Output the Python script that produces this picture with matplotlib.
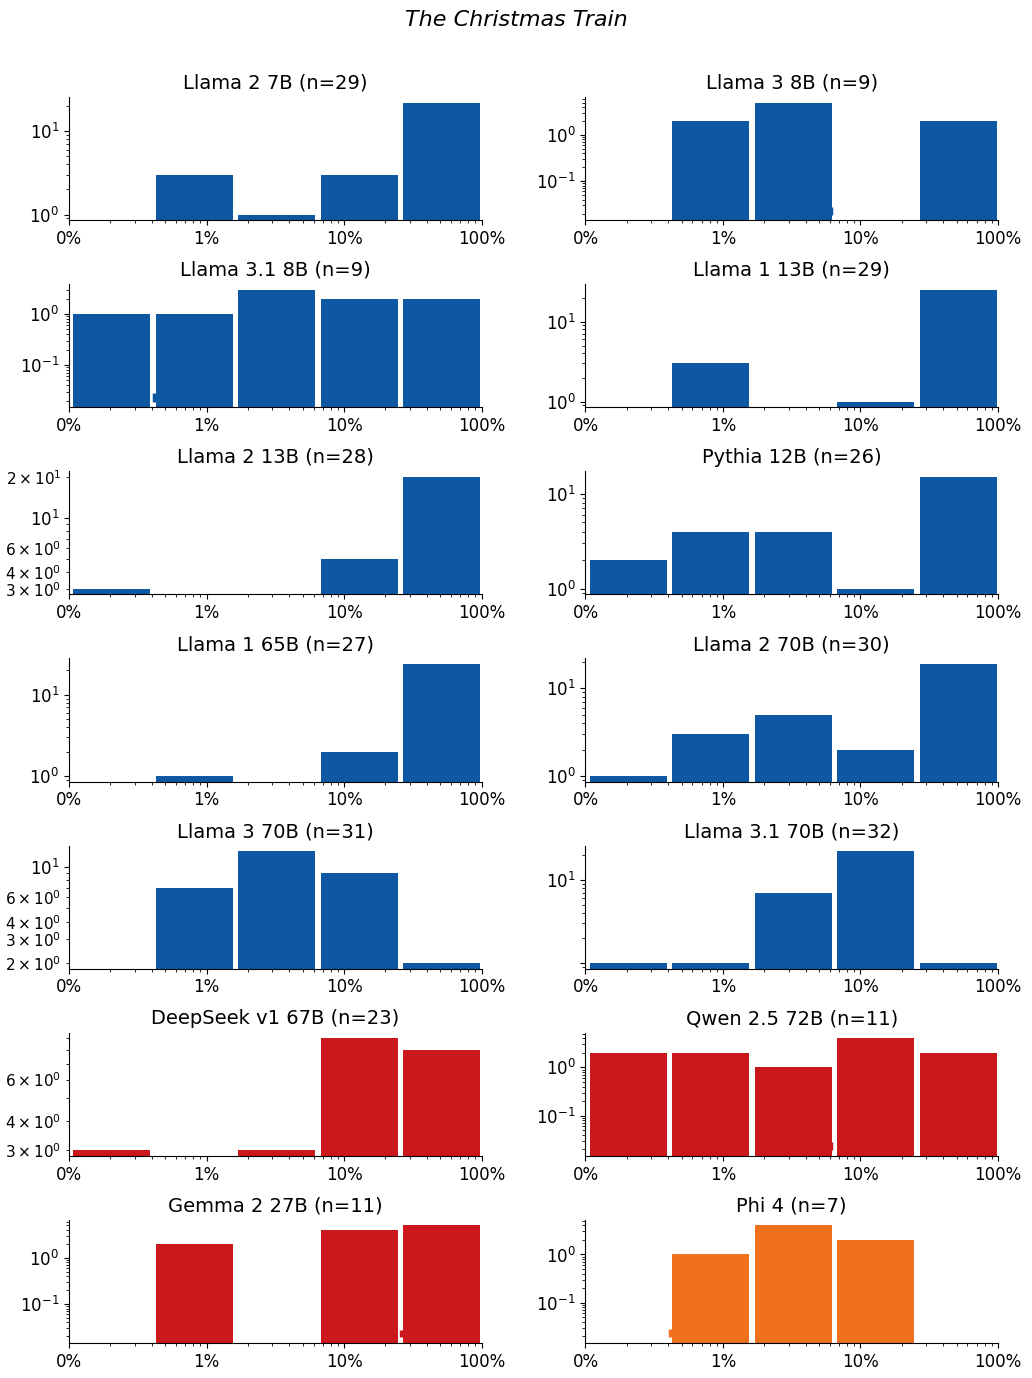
import numpy as np
import matplotlib
matplotlib.use("Agg")
import matplotlib.pyplot as plt
from matplotlib.ticker import NullFormatter

# Data: counts per log-spaced bin (0.1% .. 100%, 5 bins)

models = ["Llama 2 7B", "Llama 3 8B", "Llama 3.1 8B", "Llama 1 13B",
          "Llama 2 13B", "Pythia 12B", "Llama 1 65B", "Llama 2 70B",
          "Llama 3 70B", "Llama 3.1 70B", "DeepSeek v1 67B", "Qwen 2.5 72B",
          "Gemma 2 27B", "Phi 4"]
counts = [
    [0, 3, 1, 3, 22],
    [0, 2, 5, 0, 2],
    [1, 1, 3, 2, 2],
    [0, 3, 0, 1, 25],
    [3, 0, 0, 5, 20],
    [2, 4, 4, 1, 15],
    [0, 1, 0, 2, 24],
    [1, 3, 5, 2, 19],
    [0, 7, 13, 9, 2],
    [1, 1, 7, 22, 1],
    [3, 0, 3, 9, 8],
    [2, 2, 1, 4, 2],
    [0, 2, 0, 4, 5],
    [0, 1, 4, 2, 0],
]
groups = ["meta", "meta", "meta", "meta", "meta", "meta", "meta", "meta",
          "meta", "meta", "other", "other", "other", "phi"]
# small tick marks near the floor of some panels
mark_x = [None, 0.0612, 0.00413, None, None, None, None, None,
          None, None, None, 0.0607, 0.261, 0.00414]
mark_lo = 0.019
mark_hi = 0.028

colors = {"meta": "#0E57A2", "other": "#CB181D", "phi": "#F0711C"}

edges = np.logspace(-3, 0, 6)
xticks = [0.001, 0.01, 0.1, 1]
xticklabels = ["0%", "1%", "10%", "100%"]

plt.rcParams["font.size"] = 12

fig, axes = plt.subplots(7, 2, figsize=(10.32, 13.78), dpi=100)
fig.subplots_adjust(left=0.0669, right=0.967, top=0.9296, bottom=0.0254,
                    wspace=0.252, hspace=0.52)

for i, ax in enumerate(axes.flat):
    c = colors[groups[i]]
    ax.hist(edges[:-1], bins=edges, weights=counts[i], rwidth=0.95,
            log=True, color=c)
    vals = [v for v in counts[i] if v > 0]
    if mark_x[i] is not None:
        ax.plot([mark_x[i], mark_x[i]], [mark_lo, mark_hi], color=c,
                lw=2.5, solid_capstyle="butt")
        vals += [mark_lo, mark_hi]
    lo, hi = min(vals), max(vals)
    pad = 0.05 * np.log10(hi / lo)
    ax.set_ylim(lo / 10 ** pad, hi * 10 ** pad)
    ax.set_xscale("log")
    ax.set_xlim(0.001, 1)
    ax.set_xticks(xticks)
    ax.set_xticklabels(xticklabels)
    ax.xaxis.set_minor_formatter(NullFormatter())
    ax.tick_params(axis="y", which="minor", labelsize=11)
    ax.set_title(f"{models[i]} (n={sum(counts[i])})", fontsize=14)
    ax.spines["top"].set_visible(False)
    ax.spines["right"].set_visible(False)

# the reference shows no label at 10^0 in this panel
ax = axes.flat[9]
ax.set_yticks([1, 10])
ax.set_yticklabels(["", r"$\mathdefault{10^{1}}$"])

fig.suptitle("The Christmas Train", fontsize=16, style="italic", y=0.993)

plt.savefig("out.png")
